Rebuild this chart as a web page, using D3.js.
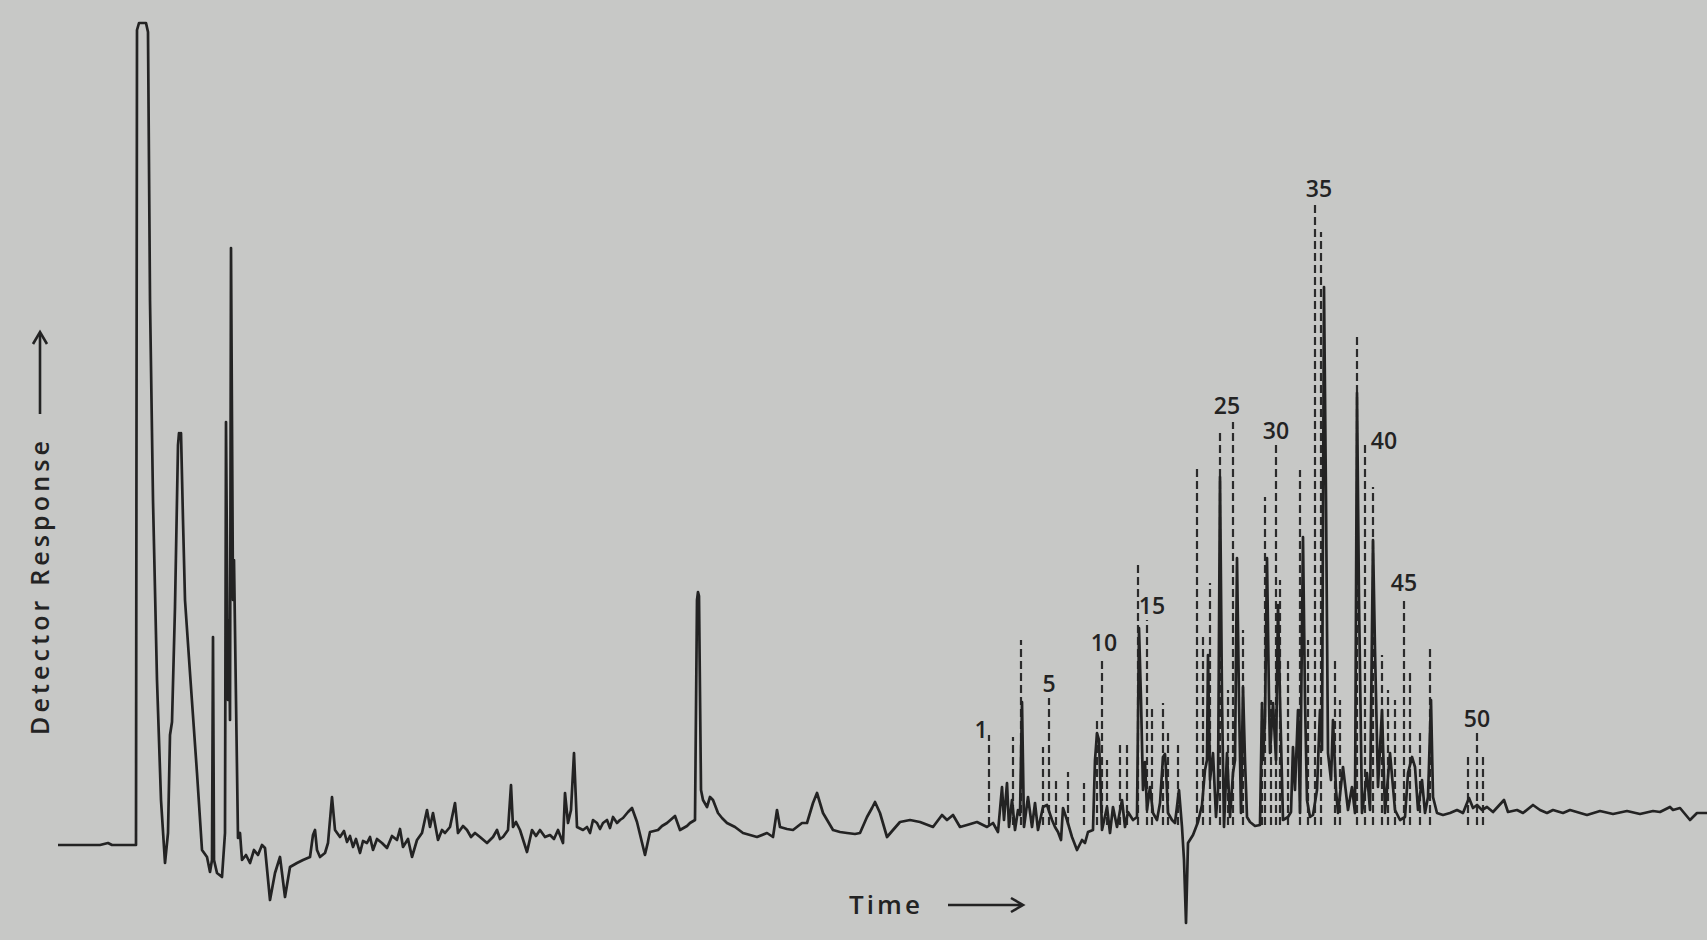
<!DOCTYPE html>
<html>
<head>
<meta charset="utf-8">
<script src="https://cdn.jsdelivr.net/npm/d3@7"></script>
<style>
  html, body { margin: 0; padding: 0; background: #c7c8c6; }
  svg { display: block; }
</style>
</head>
<body>
<svg id="chart" width="1707" height="940"></svg>
<script>
// Chromatogram trace: [time (chart units), detector response (chart units)]
const solventFront = [
  [0, 0], [4.2, 0], [5.0, 0.2], [5.4, 0], [7.8, 0],
  [7.9, 81.5], [8.1, 82.2], [8.8, 82.2], [9.0, 81.3], [9.2, 54.5], [9.5, 34.5],
  [9.9, 16.5], [10.3, 4.5], [10.7, -1.8], [11.0, 1.2], [11.2, 11.0], [11.4, 12.3],
  [11.7, 23.8], [12.0, 40.0], [12.1, 41.2], [12.2, 40.7], [12.3, 41.2], [12.5, 32.5],
  [12.7, 24.5], [13.2, 17.2], [13.9, 7.2], [14.4, -0.5], [14.9, -1.2], [15.2, -2.7],
  [15.4, -1.5], [15.5, 20.8], [15.6, -1.5], [15.9, -2.8], [16.4, -3.2], [16.7, 1.2],
  [16.8, 42.3], [17.0, 14.5], [17.1, 22.5], [17.2, 12.5], [17.3, 59.7], [17.5, 24.5],
  [17.6, 28.5], [17.8, 14.5], [18.0, 0.7]
];

const midRun = [
  [18.2, 1.2], [18.4, -1.5], [18.8, -1.0], [19.2, -1.8], [19.6, -0.5], [20.0, -1.0],
  [20.4, 0], [20.7, -0.3], [21.2, -5.5], [21.7, -2.8], [22.2, -1.2], [22.7, -5.2],
  [23.2, -2.2], [23.9, -1.8], [24.5, -1.5], [25.2, -1.2], [25.5, 1.0], [25.7, 1.5],
  [25.9, -0.5], [26.2, -1.2], [26.7, -0.8], [27.0, 0.2], [27.4, 4.8], [27.7, 1.5],
  [28.2, 0.8], [28.6, 1.4], [28.9, 0.3], [29.2, 0.9], [29.5, -0.2], [29.8, 0.6],
  [30.2, -0.8], [30.5, 0.4], [30.9, 0.2], [31.2, 0.8], [31.5, -0.5], [31.9, 0.6],
  [32.4, 0.2], [32.9, -0.3], [33.4, 0.9], [33.9, 0.5], [34.2, 1.6], [34.5, -0.2],
  [35.0, 0.6], [35.4, -1.2], [35.9, 0.5], [36.4, 1.2], [36.9, 3.5], [37.2, 1.8],
  [37.5, 3.2], [38.0, 0.5], [38.4, 1.5], [38.7, 1.2], [39.2, 1.8], [39.7, 4.2],
  [40.0, 1.2], [40.5, 1.9], [40.9, 1.5], [41.3, 0.8], [41.7, 1.2], [42.2, 0.8],
  [42.9, 0.2], [43.5, 0.8], [43.9, 1.5], [44.2, 0.6], [44.5, 0.8], [45.0, 1.5],
  [45.3, 6.0], [45.5, 1.8], [45.8, 2.3], [46.2, 1.5], [46.9, -0.7], [47.4, 1.5],
  [47.8, 0.9], [48.2, 1.5], [48.7, 0.8], [49.2, 1.0], [49.6, 0.6], [50.0, 1.5],
  [50.5, 0.2], [50.7, 5.2], [51.0, 2.2], [51.3, 3.5], [51.6, 9.2], [51.9, 1.8],
  [52.5, 1.5], [52.9, 1.8], [53.2, 1.2], [53.5, 2.5], [53.9, 2.2], [54.2, 1.6],
  [54.5, 2.2], [54.9, 2.5], [55.2, 1.7], [55.5, 2.8], [55.9, 2.2], [56.2, 2.5],
  [56.5, 2.7], [57.0, 3.3], [57.4, 3.7], [57.9, 2.3], [58.7, -1.0], [59.2, 1.3],
  [60.0, 1.5], [60.4, 1.9], [60.9, 2.2], [61.7, 2.9], [62.2, 1.5], [62.9, 1.9],
  [63.2, 2.2], [63.7, 2.5], [63.9, 24.5], [64.0, 25.3], [64.1, 24.9], [64.3, 5.5],
  [64.5, 4.5], [64.9, 3.8], [65.2, 4.8], [65.5, 4.5], [66.0, 3.2], [66.4, 2.7],
  [66.9, 2.2], [67.7, 1.8], [68.5, 1.2], [69.2, 1.0], [69.9, 0.8], [70.9, 1.2],
  [71.5, 0.8], [71.9, 3.5], [72.2, 1.8], [72.9, 1.6], [73.5, 1.5], [74.4, 2.2],
  [74.9, 2.2], [75.5, 4.2], [75.9, 5.2], [76.5, 3.2], [77.5, 1.5], [78.2, 1.3],
  [78.9, 1.2], [79.7, 1.1], [80.2, 1.2], [80.9, 2.8], [81.4, 3.7], [81.7, 4.3],
  [82.2, 3.2], [82.9, 0.8], [83.5, 1.5], [84.2, 2.3], [85.2, 2.5], [86.2, 2.3],
  [87.5, 1.8], [88.4, 3.0], [88.9, 2.5], [89.5, 3.0], [90.2, 1.8], [90.9, 2.0],
  [91.9, 2.3], [92.9, 1.8], [93.5, 2.2]
];

const lateCluster = [
  [94.0, 1.3], [94.4, 5.8], [94.6, 2.5], [94.9, 6.2], [95.1, 1.8], [95.4, 4.5],
  [95.7, 1.5], [96.0, 3.5], [96.2, 3.0], [96.4, 14.3], [96.6, 1.8], [97.0, 4.8],
  [97.4, 1.8], [97.7, 4.2], [98.0, 1.5], [98.5, 3.8], [98.9, 4.0], [99.4, 2.5],
  [99.7, 1.8], [100.0, 1.3], [100.3, 0.5], [100.5, 3.7], [100.9, 2.5], [101.4, 0.8],
  [101.9, -0.5], [102.4, 0.5], [102.7, 0.2], [103.0, 1.3], [103.5, 1.5], [103.7, 8.5],
  [103.9, 11.2], [104.1, 10.5], [104.2, 7.5], [104.4, 1.5], [104.9, 3.8], [105.2, 1.2],
  [105.5, 3.8], [105.9, 1.8], [106.4, 4.5], [106.7, 1.8], [107.0, 3.3], [107.5, 2.5],
  [107.9, 2.8], [108.1, 21.7], [108.3, 14.5], [108.5, 5.5], [108.7, 8.3], [108.9, 3.5],
  [109.2, 5.8], [109.5, 3.2], [109.9, 2.5], [110.2, 4.2], [110.5, 8.8], [110.7, 9.1],
  [110.8, 7.5], [111.0, 3.2], [111.4, 2.5], [111.7, 2.2], [112.1, 5.5], [112.4, 1.8],
  [112.6, -1.5], [112.8, -7.8], [113.0, 0.2], [113.5, 1.0], [114.0, 2.3], [114.4, 4.0],
  [114.7, 7.5], [114.9, 8.5], [115.0, 19.0], [115.2, 6.5], [115.5, 9.2], [115.8, 2.8],
  [116.0, 5.5], [116.2, 36.8], [116.4, 14.5], [116.6, 1.8], [116.9, 9.2], [117.2, 2.8],
  [117.5, 7.2], [117.7, 8.5], [117.9, 28.7], [118.1, 14.5], [118.3, 3.2], [118.5, 15.8],
  [118.7, 8.5], [118.9, 2.8], [119.2, 2.3], [119.7, 1.9], [120.2, 2.0], [120.4, 14.2],
  [120.5, 8.5], [120.7, 12.5], [120.9, 28.7], [121.1, 14.5], [121.2, 9.2], [121.5, 14.2],
  [121.8, 8.5], [122.0, 24.0], [122.2, 14.5], [122.5, 2.5], [123.0, 2.8], [123.3, 3.3],
  [123.5, 9.8], [123.7, 5.5], [124.0, 13.5], [124.2, 3.2], [124.5, 30.8], [124.7, 14.5],
  [124.9, 4.5], [125.2, 2.8], [125.5, 3.0], [125.9, 5.5], [126.2, 13.5], [126.4, 9.5],
  [126.6, 55.8], [126.8, 34.5], [127.0, 9.2], [127.3, 6.5], [127.5, 12.5], [127.8, 5.5],
  [128.0, 3.2], [128.5, 7.8], [129.0, 3.5], [129.4, 5.8], [129.7, 3.2], [129.9, 45.2],
  [130.1, 24.5], [130.4, 3.2], [130.7, 5.5], [130.9, 7.2], [131.2, 3.5], [131.5, 30.5],
  [131.7, 19.5], [132.0, 5.8], [132.4, 13.5], [132.7, 3.2], [133.2, 9.2], [133.7, 3.5],
  [134.2, 2.5], [134.7, 2.8], [135.0, 7.2], [135.4, 8.8], [135.7, 7.8], [136.0, 3.5],
  [136.4, 6.5], [136.7, 3.2], [137.0, 4.8], [137.3, 14.5], [137.5, 4.8], [137.9, 3.2]
];

const tail = [
  [138.5, 3.0], [139.2, 3.2], [139.9, 3.5], [140.5, 3.2], [141.1, 4.7], [141.5, 3.7],
  [141.9, 4.0], [142.4, 3.5], [142.9, 3.8], [143.5, 3.3], [144.6, 4.5], [145.0, 3.3],
  [145.9, 3.5], [146.5, 3.2], [147.5, 4.0], [148.2, 3.5], [148.9, 3.2], [149.5, 3.5],
  [150.5, 3.2], [151.2, 3.5], [152.9, 3.0], [154.2, 3.4], [155.5, 3.1], [156.9, 3.4],
  [158.2, 3.1], [159.5, 3.4], [160.2, 3.3], [161.2, 3.8], [161.5, 3.5], [162.2, 3.7],
  [163.2, 2.5], [163.9, 3.2], [164.9, 3.2]
];

// Reference peaks marked with dashed lines: retention time and height
const peakTimes = [
  93.1, 95.5, 96.3, 98.5, 99.1, 99.8, 101.0, 102.6, 103.9, 104.4,
  104.9, 106.2, 106.9, 108.0, 108.9, 109.4, 110.5, 111.0, 112.0, 113.9,
  114.5, 115.2, 116.2, 117.0, 117.5, 118.5, 120.4, 120.7, 121.3, 121.8,
  122.2, 123.0, 124.2, 125.0, 125.7, 126.3, 127.7, 128.2, 129.9, 130.7,
  131.5, 132.4, 133.0, 133.7, 134.6, 135.2, 136.2, 137.2, 141.0, 141.9,
  142.5
];
const peakHeights = [
  11.0, 10.8, 20.5, 9.8, 14.7, 6.8, 7.3, 6.2, 12.5, 18.8,
  8.5, 10.3, 10.0, 28.0, 22.5, 13.8, 14.2, 11.5, 10.3, 37.7,
  21.2, 26.2, 41.3, 15.5, 42.3, 21.5, 14.2, 34.8, 14.5, 40.0,
  26.5, 18.5, 37.5, 20.5, 64.2, 61.3, 18.7, 14.5, 50.8, 40.2,
  35.8, 19.0, 15.5, 14.5, 24.8, 17.2, 11.2, 19.8, 9.2, 11.2,
  8.8
];
// Peak numbers printed above the markers
const peakLabels = [1, 5, 10, 15, 25, 30, 35, 40, 45, 50];

const axisLabels = { x: "Time", y: "Detector Response" };

const svg = d3.select("#chart");

const x = d3.scaleLinear().domain([0, 165]).range([58, 1708]);
const y = d3.scaleLinear().domain([0, 82.2]).range([845, 23]);

const ink = "#232323";
const font = "'Open Sans', 'DejaVu Sans', sans-serif";
const markerBase = 2;

// dashed reference-peak markers
svg.append("g")
  .selectAll("line")
  .data(peakTimes.map((t, i) => ({ t, h: peakHeights[i] })))
  .join("line")
  .attr("x1", d => x(d.t)).attr("x2", d => x(d.t))
  .attr("y1", y(markerBase)).attr("y2", d => y(d.h))
  .attr("stroke", "#2b2b2b")
  .attr("stroke-width", 2.2)
  .attr("stroke-dasharray", "8,4");

// detector trace
const trace = solventFront.concat(midRun, lateCluster, tail);
const line = d3.line().x(d => x(d[0])).y(d => y(d[1]));
svg.append("path")
  .datum(trace)
  .attr("d", line)
  .attr("fill", "none")
  .attr("stroke", ink)
  .attr("stroke-width", 2.7)
  .attr("stroke-linejoin", "round");

// peak numbers (small sideways offsets keep them clear of the markers)
const nudge = { 1: [-8, 9], 10: [2, 0], 15: [5, 0], 25: [-6, -2], 35: [4, 0], 40: [19, 12] };
svg.append("g")
  .selectAll("text")
  .data(peakLabels)
  .join("text")
  .attr("x", n => x(peakTimes[n - 1]) + (nudge[n] ? nudge[n][0] : 0))
  .attr("y", n => y(peakHeights[n - 1]) - 6 + (nudge[n] ? nudge[n][1] : 0))
  .attr("text-anchor", "middle")
  .attr("font-family", font)
  .attr("font-weight", 600)
  .attr("font-size", 23)
  .attr("fill", ink)
  .text(n => n);

// axis captions with arrows
const arrowHead = (g, x0, y0, dir) => {
  const p = dir === "right"
    ? [[x0 - 12, y0 - 7], [x0, y0], [x0 - 12, y0 + 7]]
    : [[x0 - 7, y0 + 12], [x0, y0], [x0 + 7, y0 + 12]];
  g.append("path").attr("d", d3.line()(p))
    .attr("fill", "none").attr("stroke", ink).attr("stroke-width", 2.6)
    .attr("stroke-linejoin", "miter");
};

const xl = svg.append("g");
xl.append("text")
  .attr("x", 849).attr("y", 914)
  .attr("font-family", font)
  .attr("font-weight", 600)
  .attr("font-size", 26)
  .attr("textLength", 71).attr("lengthAdjust", "spacing")
  .attr("fill", ink)
  .text(axisLabels.x);
xl.append("line").attr("x1", 948).attr("x2", 1022).attr("y1", 905).attr("y2", 905)
  .attr("stroke", ink).attr("stroke-width", 2.6);
arrowHead(xl, 1023, 905, "right");

const yl = svg.append("g");
yl.append("text")
  .attr("transform", "translate(49,588) rotate(-90)")
  .attr("text-anchor", "middle")
  .attr("font-family", font)
  .attr("font-weight", 600)
  .attr("font-size", 25)
  .attr("textLength", 294).attr("lengthAdjust", "spacing")
  .attr("fill", ink)
  .text(axisLabels.y);
yl.append("line").attr("x1", 40).attr("x2", 40).attr("y1", 414).attr("y2", 333)
  .attr("stroke", ink).attr("stroke-width", 2.6);
arrowHead(yl, 40, 332, "up");
</script>
</body>
</html>
